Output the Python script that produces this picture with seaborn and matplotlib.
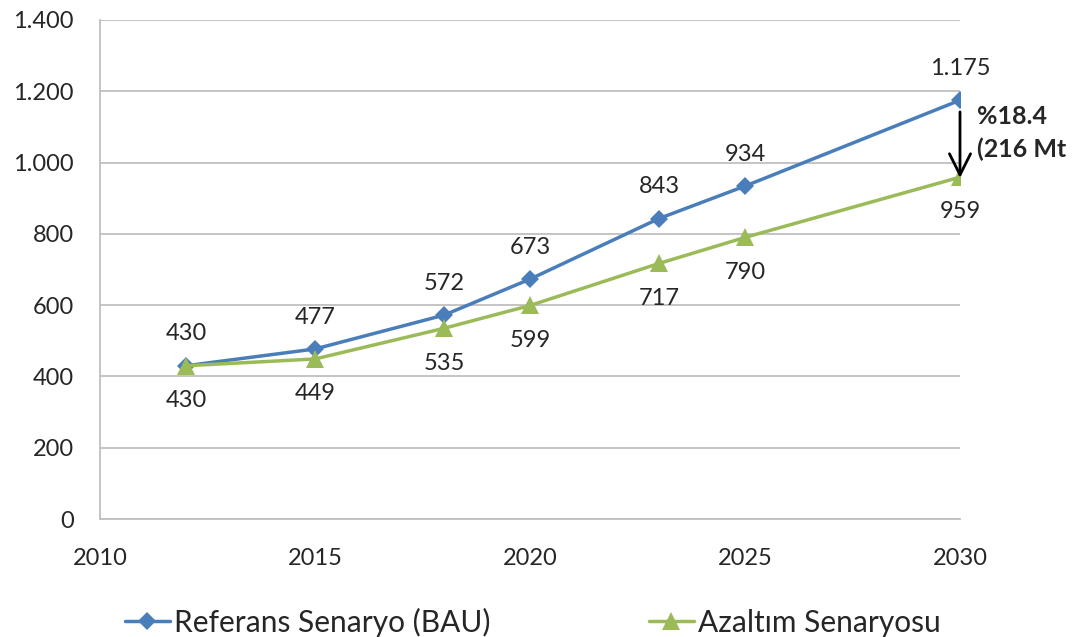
import numpy as np
import pandas as pd
import matplotlib
matplotlib.use('Agg')
import matplotlib.pyplot as plt
from matplotlib import ticker
import seaborn as sns

# yillar ve senaryo degerleri (Mt)
years = [2012, 2015, 2018, 2020, 2023, 2025, 2030]
bau = [430, 477, 572, 673, 843, 934, 1175]
azaltim = [430, 449, 535, 599, 717, 790, 959]
bau_labels = ['430', '477', '572', '673', '843', '934', '1.175']
azaltim_labels = ['430', '449', '535', '599', '717', '790', '959']
series_names = ['Referans Senaryo (BAU)', 'Azaltım Senaryosu']
y_ticks = [0, 200, 400, 600, 800, 1000, 1200, 1400]
x_ticks = [2010, 2015, 2020, 2025, 2030]

blue = '#4A7EBB'
green = '#9BBB59'

sns.set_style('white')
plt.rcParams['font.family'] = ['Lato', 'DejaVu Sans']

df_bau = pd.DataFrame({'yil': years, 'deger': bau})
df_az = pd.DataFrame({'yil': years, 'deger': azaltim})

fig = plt.figure(figsize=(10.84, 6.37), dpi=100)
ax = fig.add_axes([100 / 1084, 1 - 519 / 637, 860 / 1084, 499 / 637])

sns.lineplot(data=df_bau, x='yil', y='deger', color=blue, marker='D', markersize=9,
             markeredgewidth=0, linewidth=2.5, label=series_names[0], ax=ax)
sns.lineplot(data=df_az, x='yil', y='deger', color=green, marker='^', markersize=13,
             markeredgewidth=0, linewidth=2.5, label=series_names[1], ax=ax)

# veri etiketleri
for x, y, t in zip(years, bau, bau_labels):
    ax.annotate(t, (x, y), xytext=(0, 23), textcoords='offset points',
                ha='center', va='center', fontsize=17, color='#262626')
for x, y, t in zip(years, azaltim, azaltim_labels):
    ax.annotate(t, (x, y), xytext=(0, -25), textcoords='offset points',
                ha='center', va='center', fontsize=17, color='#262626')

# 2030 azalma oku
ax.annotate('', xy=(years[-1], azaltim[-1] - 10), xytext=(years[-1], bau[-1] - 25),
            arrowprops=dict(arrowstyle='->', color='black', lw=2, mutation_scale=38))
ax.text(2030.4, 1082, '%18.4\n(216 Mt', fontsize=18, fontweight='bold',
        ha='left', va='center', linespacing=1.5, clip_on=False)

ax.set_xlim(2010, 2030)
ax.set_ylim(0, 1400)
ax.set_xticks(x_ticks)
ax.set_yticks(y_ticks)
ax.yaxis.set_major_formatter(ticker.FuncFormatter(lambda v, p: f'{int(v):,}'.replace(',', '.')))
ax.tick_params(axis='both', length=0, labelsize=17, labelcolor='#262626')
ax.tick_params(axis='x', pad=21)
ax.tick_params(axis='y', pad=19)
ax.set_xlabel('')
ax.set_ylabel('')

ax.yaxis.grid(True, color='#BFBFBF', linewidth=1.3)
ax.set_axisbelow(True)
sns.despine(ax=ax, top=True, right=True)
for s in ['left', 'bottom']:
    ax.spines[s].set_color('#BFBFBF')
    ax.spines[s].set_linewidth(1.3)

handles, labels = ax.get_legend_handles_labels()
ax.legend(handles, labels, loc='center left', bbox_to_anchor=(13 / 860, -0.207),
          borderaxespad=0, ncol=2, frameon=False, fontsize=21.5, handlelength=1.5,
          handletextpad=0.15, columnspacing=5.3)

fig.savefig('out.png', dpi=100)
